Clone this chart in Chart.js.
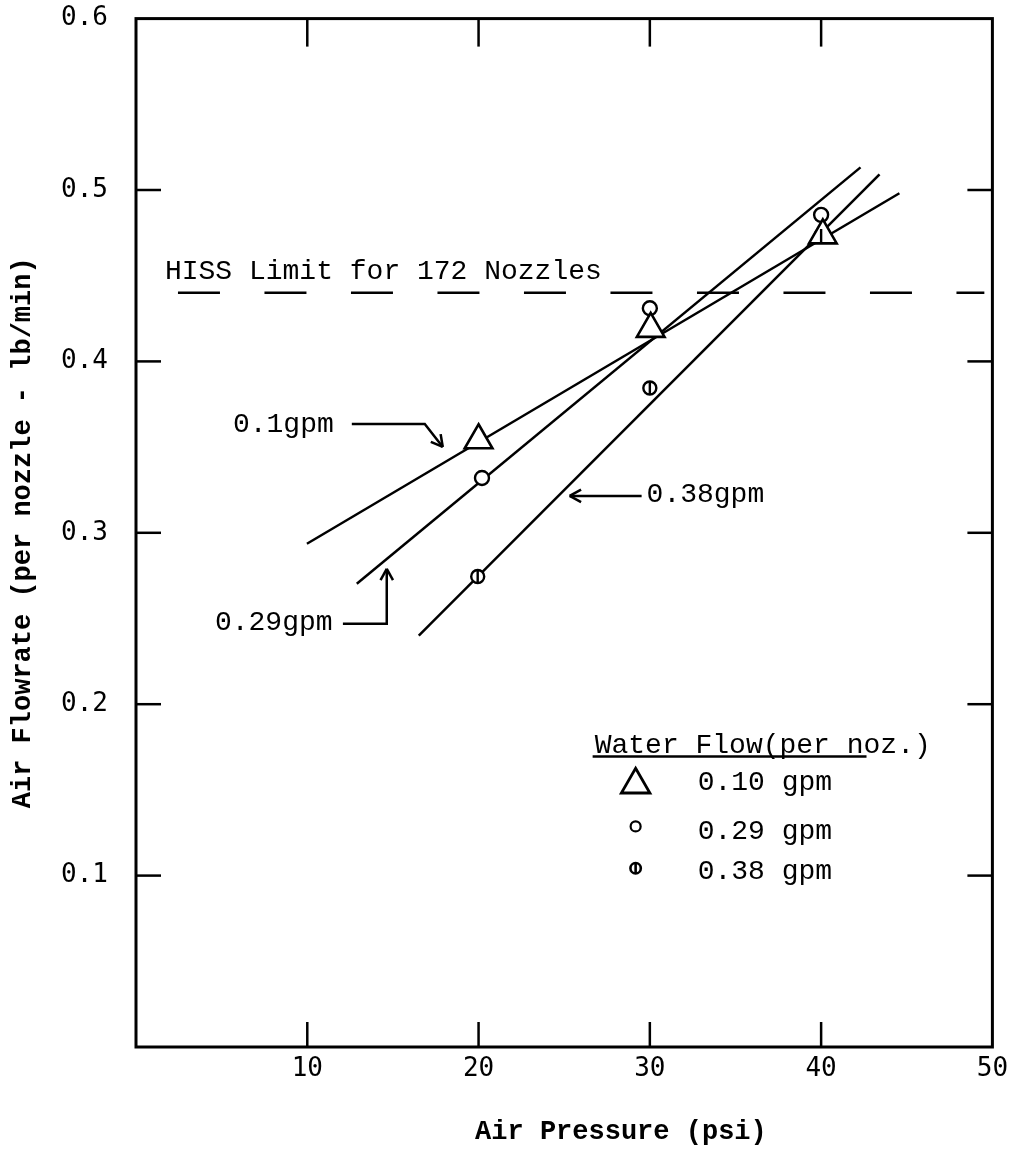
<!DOCTYPE html>
<html>
<head>
<meta charset="utf-8">
<script src="https://cdn.jsdelivr.net/npm/chart.js@4.4.1/dist/chart.umd.min.js"></script>
<style>
html,body{margin:0;padding:0;background:#fff;}
#wrap{width:1011px;height:1150px;position:relative;}
</style>
</head>
<body>
<div id="wrap"><canvas id="c" width="1011" height="1150"></canvas></div>
<script>
// ---------- data ----------
const xTickValues = [10, 20, 30, 40, 50];
const yTickValues = [0.1, 0.2, 0.3, 0.4, 0.5, 0.6];
const seriesLabels = ['0.10 gpm', '0.29 gpm', '0.38 gpm'];

// measured points (air pressure psi, air flowrate lb/min per nozzle)
const p010_x = [20.0, 30.05, 40.1];
const p010_y = [0.354, 0.419, 0.4735];
const p029_x = [20.2, 30.0, 40.0];
const p029_y = [0.332, 0.431, 0.4855];
const p038_x = [19.95, 30.0, 40.0];
const p038_y = [0.2745, 0.3845, 0.4735];

// fitted straight lines (end points)
const fit010_x = [9.98, 44.57];
const fit010_y = [0.2936, 0.4981];
const fit029_x = [12.89, 42.30];
const fit029_y = [0.2703, 0.5132];
const fit038_x = [16.51, 43.41];
const fit038_y = [0.2400, 0.5091];

// HISS limit
const hissLimit = 0.44;
const hissRange = [2.45, 49.53];

const xTitle = 'Air Pressure (psi)';
const yTitle = 'Air Flowrate (per nozzle - lb/min)';
const legendTitle = 'Water Flow(per noz.)';

// ---------- helpers ----------
const pts = (xs, ys) => xs.map((v, i) => ({x: v, y: ys[i]}));
const MONO = '"Liberation Mono", "DejaVu Sans Mono", monospace';
const TICKFONT = '"DejaVu Sans Mono", "Liberation Mono", monospace';

// annotation placement (data units)
const notes = [
  {text: 'HISS Limit for 172 Nozzles', x: 1.69, y: 0.4526},
  {text: '0.1gpm', x: 5.66, y: 0.3629},
  {text: '0.29gpm', x: 4.61, y: 0.2476},
  {text: '0.38gpm', x: 29.81, y: 0.3221}
];
const arrows = [
  [[12.60, 0.3635], [16.86, 0.3635], [17.91, 0.3501]],
  [[12.08, 0.2470], [14.64, 0.2470], [14.64, 0.2790]],
  [[29.52, 0.3215], [25.32, 0.3215]]
];
const legendPos = {titleX: 26.78, titleY: 0.1718, ulFrom: 26.66, ulTo: 42.65, ulY: 0.1695,
  markerX: 29.17, textX: 32.79, rowsText: [0.1544, 0.1258, 0.1025], rowsMarker: [0.1530, 0.1287, 0.1043]};

const overlay = {
  id: 'overlay',
  afterDraw(chart) {
    const {ctx, chartArea: a, scales: {x, y}} = chart;
    const X = v => x.getPixelForValue(v), Y = v => y.getPixelForValue(v);
    ctx.save();
    ctx.strokeStyle = '#000';
    ctx.fillStyle = '#000';
    // frame
    ctx.lineWidth = 3;
    ctx.strokeRect(a.left, a.top, a.right - a.left, a.bottom - a.top);
    // inward ticks
    ctx.lineWidth = 2.5;
    const seg = (x1, y1, x2, y2) => { ctx.beginPath(); ctx.moveTo(x1, y1); ctx.lineTo(x2, y2); ctx.stroke(); };
    x.ticks.forEach(t => {
      if (t.value <= x.min || t.value >= x.max) return;
      const px = X(t.value);
      seg(px, a.bottom, px, a.bottom - 25);
      seg(px, a.top, px, a.top + 28);
    });
    y.ticks.forEach(t => {
      if (t.value <= y.min + 1e-9 || t.value >= y.max - 1e-9) return;
      const py = Y(t.value);
      seg(a.left, py, a.left + 25, py);
      seg(a.right, py, a.right - 25, py);
    });
    // text notes
    ctx.font = '28px ' + MONO;
    ctx.textAlign = 'left';
    ctx.textBaseline = 'middle';
    notes.forEach(n => ctx.fillText(n.text, X(n.x), Y(n.y)));
    // arrows
    ctx.lineWidth = 2.5;
    arrows.forEach(path => {
      ctx.beginPath();
      path.forEach((p, i) => i ? ctx.lineTo(X(p[0]), Y(p[1])) : ctx.moveTo(X(p[0]), Y(p[1])));
      ctx.stroke();
      const n = path.length;
      const tx = X(path[n - 1][0]), ty = Y(path[n - 1][1]);
      const fx = X(path[n - 2][0]), fy = Y(path[n - 2][1]);
      const ang = Math.atan2(ty - fy, tx - fx);
      const L = 13, spread = 0.5;
      seg(tx, ty, tx - L * Math.cos(ang - spread), ty - L * Math.sin(ang - spread));
      seg(tx, ty, tx - L * Math.cos(ang + spread), ty - L * Math.sin(ang + spread));
    });
    // legend
    ctx.textBaseline = 'alphabetic';
    ctx.fillText(legendTitle, X(legendPos.titleX), Y(legendPos.titleY));
    ctx.lineWidth = 2.5;
    seg(X(legendPos.ulFrom), Y(legendPos.ulY), X(legendPos.ulTo), Y(legendPos.ulY));
    ctx.textBaseline = 'middle';
    seriesLabels.forEach((lab, i) => ctx.fillText(lab, X(legendPos.textX), Y(legendPos.rowsText[i])));
    const mx = X(legendPos.markerX);
    // triangle
    let my = Y(legendPos.rowsMarker[0]);
    const r = 16.5;
    ctx.lineWidth = 2.8;
    ctx.beginPath();
    ctx.moveTo(mx, my - r);
    ctx.lineTo(mx + r * Math.sin(2 * Math.PI / 3), my + r / 2);
    ctx.lineTo(mx - r * Math.sin(2 * Math.PI / 3), my + r / 2);
    ctx.closePath();
    ctx.stroke();
    // open circle
    my = Y(legendPos.rowsMarker[1]);
    ctx.lineWidth = 2.2;
    ctx.beginPath(); ctx.arc(mx, my, 5, 0, Math.PI * 2); ctx.stroke();
    // crossed circle
    my = Y(legendPos.rowsMarker[2]);
    ctx.lineWidth = 2.6;
    ctx.beginPath(); ctx.arc(mx, my, 5.2, 0, Math.PI * 2); ctx.stroke();
    seg(mx, my - 5.2, mx, my + 5.2);
    ctx.restore();
  }
};

const lineDs = (xs, ys) => ({data: pts(xs, ys), showLine: true, borderColor: '#000', borderWidth: 2.5,
  pointRadius: 0, fill: false, order: 10});

const chart = new Chart(document.getElementById('c'), {
  type: 'scatter',
  data: {
    datasets: [
      {label: seriesLabels[0], data: pts(p010_x, p010_y), pointStyle: 'triangle', pointRadius: 16,
        borderColor: '#000', backgroundColor: '#fff', borderWidth: 2.6, order: 1},
      {label: seriesLabels[1], data: pts(p029_x, p029_y), pointStyle: 'circle', pointRadius: 7,
        borderColor: '#000', backgroundColor: '#fff', borderWidth: 2.4, order: 2},
      {label: seriesLabels[2], data: pts(p038_x, p038_y), pointStyle: 'circle', pointRadius: 6.5,
        borderColor: '#000', backgroundColor: '#fff', borderWidth: 2.4, order: 3},
      {label: seriesLabels[2] + ' bar', data: pts(p038_x, p038_y), pointStyle: 'line', pointRadius: 6.5,
        rotation: 90, borderColor: '#000', borderWidth: 2.4, order: 0},
      lineDs(fit010_x, fit010_y),
      lineDs(fit029_x, fit029_y),
      lineDs(fit038_x, fit038_y),
      {data: pts(hissRange, [hissLimit, hissLimit]), showLine: true, borderColor: '#000', borderWidth: 2.5,
        borderDash: [42, 44.5], pointRadius: 0, order: 11}
    ]
  },
  options: {
    responsive: false,
    animation: false,
    devicePixelRatio: 1,
    layout: {padding: {top: 17, right: 18, bottom: 0, left: 0}},
    plugins: {legend: {display: false}, tooltip: {enabled: false}},
    scales: {
      x: {
        type: 'linear', min: 0, max: 50,
        afterFit: s => { s.height = 103; s.paddingLeft = 0; s.paddingRight = 0; },
        afterBuildTicks: s => { s.ticks = [0].concat(xTickValues).map(v => ({value: v})); },
        grid: {display: false, drawTicks: false},
        border: {display: false},
        ticks: {padding: 7, color: '#000', font: {family: TICKFONT, size: 26},
          callback: v => v === 0 ? '' : String(v)},
        title: {display: true, text: '       ' + xTitle, color: '#000',
          font: {family: MONO, size: 27, weight: 'bold'}, padding: {top: 0, bottom: 2}}
      },
      y: {
        type: 'linear', min: 0, max: 0.6,
        afterFit: s => { s.width = 136; s.paddingTop = 0; s.paddingBottom = 0; },
        afterBuildTicks: s => { s.ticks = [0].concat(yTickValues).map(v => ({value: v})); },
        grid: {display: false, drawTicks: false},
        border: {display: false},
        ticks: {padding: 28, color: '#000', font: {family: TICKFONT, size: 26},
          callback: v => v === 0 ? '' : v.toFixed(1)},
        title: {display: true, text: yTitle, color: '#000',
          font: {family: MONO, size: 27, weight: 'bold'}, padding: {top: 7, bottom: 0}}
      }
    }
  },
  plugins: [overlay]
});
</script>
</body>
</html>
